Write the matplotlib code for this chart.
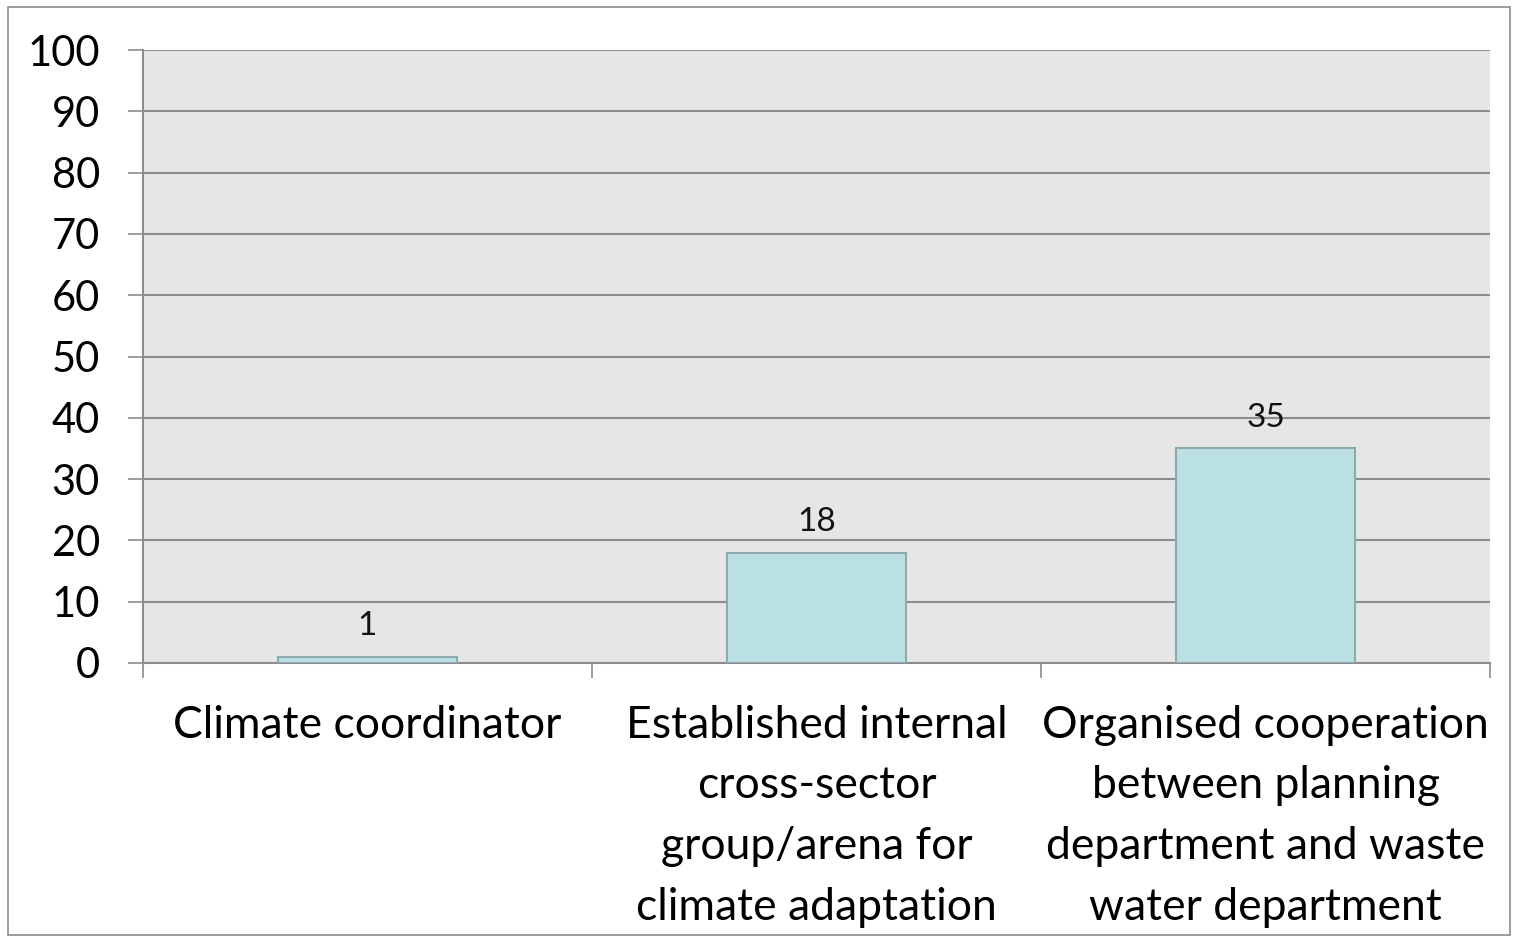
import matplotlib.pyplot as plt
from matplotlib.patches import Rectangle

# Chart data
categories = ["Climate coordinator",
              "Established internal\ncross-sector\ngroup/arena for\nclimate adaptation",
              "Organised cooperation\nbetween planning\ndepartment and waste\nwater department"]
values = [1, 18, 35]
y_ticks = list(range(0, 101, 10))

plt.rcParams['font.family'] = ['Lato', 'DejaVu Sans']

fig = plt.figure(figsize=(15.18, 9.4), dpi=100)
ax = fig.add_axes([143 / 1518, 1 - 663 / 940, (1490 - 143) / 1518, (663 - 50) / 940])
ax.set_facecolor('#E6E6E6')

x = list(range(len(categories)))
bars = ax.bar(x, values, width=0.4, color='#BBE0E3', edgecolor='#8FAAAC', linewidth=1.5, zorder=3)

for xi, v in zip(x, values):
    ax.text(xi, v + 2.6, str(v), ha='center', va='bottom', fontsize=24, color='#111111')

ax.set_xlim(-0.5, 2.5)
ax.set_ylim(0, 100)
ax.set_yticks(y_ticks)
ax.yaxis.grid(True, color='#8C8C8C', linewidth=1.5, zorder=0)
ax.tick_params(axis='y', length=11, width=1.2, color='#8C8C8C', pad=20, labelsize=30)

# boundaries get the ticks, centres get the labels
ax.set_xticks([-0.5, 0.5, 1.5, 2.5])
ax.set_xticklabels([])
ax.set_xticks(x, minor=True)
ax.set_xticklabels(categories, minor=True, fontsize=32, linespacing=1.6)
ax.tick_params(axis='x', which='major', length=11, width=1.2, color='#8C8C8C')
ax.tick_params(axis='x', which='minor', length=0, pad=30)

for side in ['top', 'right']:
    ax.spines[side].set_visible(False)
for side in ['left', 'bottom']:
    ax.spines[side].set_color('#8C8C8C')
    ax.spines[side].set_linewidth(1.5)

fig.patches.append(Rectangle((8 / 1518, 5 / 940), 1502 / 1518, 928 / 940, transform=fig.transFigure,
                             fill=False, edgecolor='#8C8C8C', linewidth=1.2))

plt.savefig('out.png')
